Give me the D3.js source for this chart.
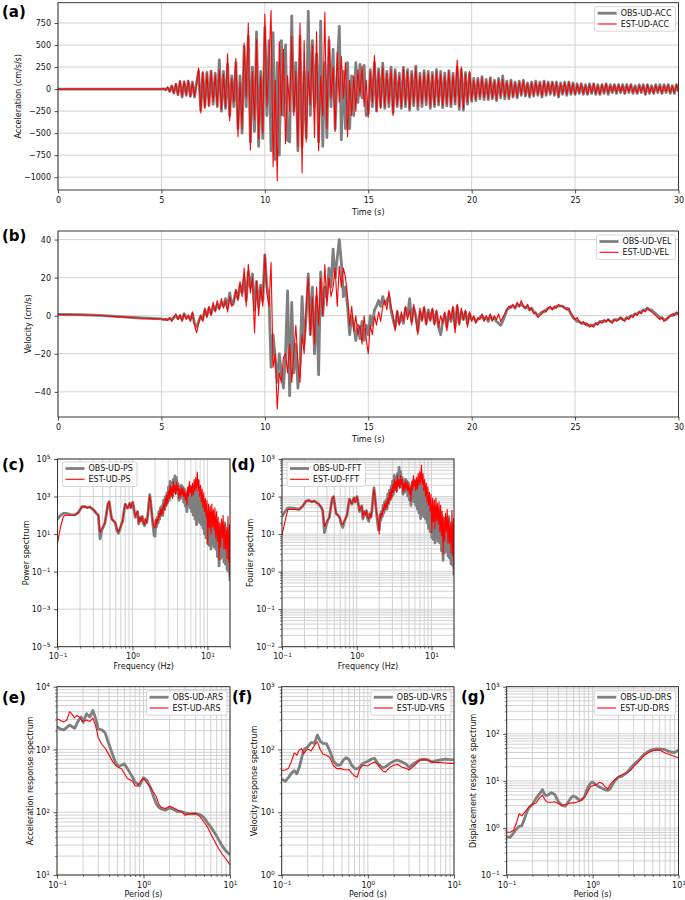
<!DOCTYPE html>
<html><head><meta charset="utf-8">
<script src="https://cdn.jsdelivr.net/npm/d3@7"></script>
<style>
body{margin:0;background:#fff;}
svg{display:block;font-family:"DejaVu Sans",sans-serif;}
</style></head><body>
<svg id="fig" width="685" height="900"></svg>
<script>
// ---------------- DATA ----------------
// time series: pre-event samples, then samples every timeStep seconds from eventStart to 30 s
const timeStep = 0.1;
const eventStart = 5.0;
const preTime = [0, 1, 2, 3, 4];
const accPreObs = [0, 0, 0, 0, 0];
const accPreEst = [0, 0, 0, 0, 0];
const velPreObs = [0.7, 0.6, 0.2, -0.5, -1.2];
const velPreEst = [0.6, 0.5, 0.1, -0.6, -1.3];

const accObs = [
0,3,-8,15,-25,35,-45,55,-65,80,
-90,80,-70,90,-80,80,-90,70,200,-240,
180,-200,190,-180,200,-170,180,-200,330,-250,
200,-220,280,-300,150,-200,300,-450,150,-500,
480,-200,600,-600,250,-480,650,-650,200,-560,
700,-300,550,-700,640,-800,300,-750,550,-300,
500,-580,-600,830,-250,300,-700,600,-650,200,
-550,880,-300,550,-200,400,-600,770,-650,300,
-550,550,-200,450,-450,200,710,-575,200,-450,
300,-450,150,-300,300,-150,280,-100,270,-300,
-280,220,-200,300,-250,230,-200,295,-220,200,
-200,250,-270,220,-200,180,-220,250,-200,220,
-240,200,-190,260,-230,180,-200,210,-180,200,
-220,190,-200,220,-180,200,-210,180,-190,210,
-200,180,-170,250,-230,220,-240,190,-170,180,
-140,120,-130,120,-110,140,-120,110,-120,130,
-110,100,-130,120,-100,150,-110,90,-110,100,
-90,80,-100,90,-70,100,-80,70,-90,80,
-80,90,-70,80,-90,90,-70,80,-60,80,
-70,80,-90,70,-60,80,-70,80,-60,70,
-60,60,-50,60,-60,50,-60,60,-50,60,
-60,50,-60,50,-50,60,-60,50,-40,50,
-50,50,-40,50,-50,50,-40,50,-50,40,
-50,50,-40,50,-60,50,-50,40,-50,50,
-40,50,-50,50,-40,50,-50,40,-50,50,
-30];
const accEst = [
0,5,-10,20,-30,40,-50,60,-70,100,
-80,90,-60,100,-90,70,-80,60,240,-270,
200,-220,180,-200,210,-150,160,-190,220,-230,
170,-200,400,-360,120,-150,350,-540,80,-450,
520,-100,750,-690,200,-350,560,-570,150,-500,
850,-200,300,890,-880,100,-1040,540,-300,450,
-620,150,-250,600,-300,200,-650,750,-950,550,
-600,200,-180,500,-550,650,-700,150,-300,870,
-450,600,-100,250,-480,420,-150,370,-100,300,
-540,100,-300,150,-250,220,-80,260,-200,100,
-320,200,-150,380,-250,200,-220,250,-200,180,
-160,220,-300,200,-180,150,-200,230,-170,200,
-220,180,-160,240,-200,150,-170,190,-150,180,
-200,160,-180,200,-150,170,-190,150,-170,200,
-180,160,-150,330,-200,250,-220,170,-150,200,
-130,100,-120,110,-90,130,-100,90,-110,120,
-100,90,-120,100,-80,110,-90,80,-100,90,
-80,70,-90,80,-60,90,-70,60,-80,70,
-70,80,-60,70,-80,90,-60,70,-50,80,
-60,70,-80,60,-50,70,-60,80,-50,60,
-60,50,-40,60,-50,40,-60,50,-40,60,
-50,40,-60,50,-40,60,-50,40,-30,50,
-40,50,-30,40,-50,40,-30,50,-40,30,
-50,40,-30,40,-60,50,-40,30,-50,40,
-30,40,-50,40,-30,50,-40,30,-40,50,
-20];

const velObs = [
-1.7,-2,-2,-2,-1.5,-2,-1,0,-1.5,0,
-2,1,-1,0,-2,1,-4,-6,-3,0,
-2,3,0,4,1,5,3,6,4,7,
5,9,4,12,6,8,13,9,16,12,
20,8,23,15,22,3,18,5,16,8,
32,15,10,-27,-10,-22,-35,-20,-30,-38,
-20,13,-42,7,-30,-15,-38,-25,10,-15,
0,22,-10,15,-20,10,-31,23,0,15,
10,25,15,35,20,30,40,28,10,15,
5,-10,0,-5,-13,-5,-12,-3,-13,-5,
-10,0,-5,3,5,8,5,10,6,8,
10,3,-2,-6,2,-4,0,-4,4,0,
9,-3,4,0,-8,2,-2,4,-4,3,
-2,3,-4,2,-6,-10,-3,1,-6,2,
-3,4,-6,5,-4,2,-2,2,-4,1,
-2,-1,-3,-2,-1,0,-2,-1,-3,0,
-2,-1,-3,-4,-5,-3,0,3,4,5,
5,4,6,5,6,5,4,5,3,4,
2,1,0,1,2,2,3,4,4,4,
4,5,5,5,5,4,4,3,1,-1,
-2,-3,-3,-4,-4,-4,-5,-5,-5,-5,
-4,-4,-3,-3,-3,-3,-2,-3,-3,-2,
-2,-2,-1,-2,-2,-1,-1,0,0,1,
1,2,2,3,3,4,3,3,2,1,
0,-1,-1,-2,-2,-1,0,0,1,1,
1];
const velEst = [
-1.7,-2,-1.5,-2.5,-1,-3,-0.5,1,-2,0.5,
-3,1,-2,0,-3,2,-5,-9,-4,0,
-3,4,-1,5,0,7,2,8,3,9,
4,8,2,10,5,6,14,8,18,10,
25,5,27,12,20,-9,18,0,15,5,
32,12,5,28,-27,-20,-49,-30,-35,-22,
-20,-30,-15,-35,-20,-5,-25,-35,-10,-20,
5,20,-10,10,-15,15,-5,20,0,27,
5,20,10,15,25,5,26,15,25,20,
10,-5,5,-8,0,-10,-5,-15,0,-12,
-20,-5,-10,0,-5,2,-3,5,8,3,
13,5,0,-8,3,-5,2,-3,5,-2,
3,-5,6,-2,-10,4,-3,5,-5,2,
-3,4,-5,3,-6,0,-4,2,-8,3,
-2,5,-9,6,-5,4,-2,3,-6,2,
-3,0,-4,-1,-2,1,-3,0,-2,1,
-3,0,-2,1,-3,-1,1,3,5,4,
6,4,7,5,8,5,4,6,3,4,
1,2,-1,0,1,3,2,4,5,3,
5,4,6,5,5,4,3,4,1,0,
-2,-1,-3,-4,-3,-5,-4,-6,-5,-6,
-4,-5,-3,-4,-2,-3,-2,-3,-4,-2,
-3,-2,-1,-2,-3,-1,-2,0,-1,1,
0,2,1,3,2,4,3,2,1,0,
-1,-2,-1,-3,-2,-1,0,1,0,2,
1];

// spectra (Hz)
const specFreq = [
0.1,0.11,0.12,0.13,0.15,0.17,0.19,0.21,0.23,0.25,
0.27,0.29,0.31,0.33,0.35,0.37,0.39,0.41,0.43,0.45,
0.47,0.49,0.51,0.53,0.56,0.59,0.62,0.65,0.68,0.71,
0.74,0.77,0.8,0.83,0.86,0.89,0.92,0.95,0.98,1.01,
1.05,1.09,1.13,1.17,1.21,1.25,1.3,1.35,1.4,1.45,
1.5,1.55,1.6,1.65,1.7,1.75,1.8,1.85,1.9,1.95,
2.0,2.05,2.1,2.15,2.2,2.25,2.3,2.36,2.42,2.48,
2.54,2.6,2.67,2.74,2.81,2.88,2.95,3.02,3.1,3.18,
3.26,3.34,3.42,3.5,3.59,3.68,3.77,3.86,3.96,4.06,
4.16,4.26,4.37,4.48,4.59,4.7,4.82,4.94,5.06,5.19,
5.32,5.45,5.59,5.73,5.87,6.02,6.17,6.32,6.48,6.64,
6.81,6.98,7.15,7.33,7.51,7.7,7.89,8.09,8.29,8.5,
8.71,8.93,9.15,9.38,9.61,9.85,10.1,10.35,10.6,10.9,
11.15,11.45,11.7,12.0,12.3,12.6,12.95,13.25,13.6,13.9,
14.3,14.6,15.0,15.4,15.8,16.2,16.6,17.0,17.4,17.9,
18.3,18.8,19.2,19.7,20.0];
const psObs = [
63,100,126,126,110,105,141,282,295,251,
282,224,178,126,100,5.6,16,25,40,126,
398,537,158,63,50,40,16,11,18,32,
50,158,398,282,240,316,437,251,355,501,
200,79,126,158,35,79,50,87,35,28,
63,40,100,398,1250,501,158,50,20,8,
7.9,50,25,79,40,158,63,251,100,316,
100,631,200,1000,316,1580,501,3160,631,6310,
1260,5010,1000,7940,2000,12600,1580,10000,1580,5010,
631,3160,794,3980,1000,3160,501,2510,316,1260,
158,2000,398,3160,251,2000,158,3160,100,2510,
63,3980,32,2000,50,1260,40,794,32,501,
20,316,10,200,6.3,158,3.2,100,2.5,126,
1.6,79,3.2,63,2,79,1.6,40,0.63,32,
0.2,20,0.5,32,0.63,25,0.32,40,0.25,20,
0.13,7.9,0.1,3.2,0.032];
const psEst = [
3.3,25,89,100,100,100,141,282,295,251,
282,224,178,126,112,12.6,20,28,40,126,
398,537,158,63,50,40,20,13,20,32,
50,158,398,282,240,316,437,251,355,501,
200,87,126,158,40,79,50,87,40,32,
63,40,100,398,1100,501,158,63,32,22,
22,63,32,63,50,126,79,200,100,251,
126,398,200,794,316,1260,398,2000,794,3980,
1000,3160,794,6310,1580,3980,1260,6310,2000,3980,
794,2510,1000,3160,1260,2820,1000,2000,631,1580,
355,3160,1000,6310,1580,3980,1000,5010,1260,7940,
2000,10000,2510,20000,2000,7940,1000,3980,501,2510,
251,1580,158,794,79,631,2.8,398,22,316,
10,398,25,200,16,251,6.3,158,4,79,
0.4,40,2,63,6.3,100,1.6,32,1.6,16,
0.5,87,0.32,32,0.063];
const fftObs = [
30,40,50,50,48,46,56,76,79,72,
76,69,63,54,42,11,17,23,28,52,
89,100,56,35,32,28,18,15,21,26,
32,56,85,71,63,79,93,71,79,100,
63,40,50,56,25,40,32,42,25,22,
35,28,45,89,170,100,56,32,20,13,
13,32,23,41,29,58,36,72,46,81,
46,115,65,145,81,182,102,257,115,363,
162,324,145,407,204,600,182,457,182,324,
115,257,129,288,145,257,102,229,81,162,
58,204,91,257,72,204,58,257,46,229,
36,288,26,204,32,162,29,129,26,102,
20,81,14,65,11.5,58,8.1,46,7.2,51,
5.8,41,8.1,36,6.5,41,5.8,29,3.6,26,
2.0,20,3.2,26,3.6,23,2.6,29,2.3,20,
1.6,13,1.45,8.1,0.8];
const fftEst = [
9.5,22,45,46,45,44,56,76,79,72,
76,69,63,54,45,16,20,24,28,52,
89,100,56,35,32,28,20,18,22,26,
32,56,85,71,63,79,93,71,79,100,
63,42,50,56,28,40,32,42,28,25,
35,28,45,89,158,100,56,35,25,20,
10,36,26,36,32,51,41,65,46,72,
51,91,65,129,81,162,91,204,129,288,
145,257,129,363,182,288,162,363,204,288,
129,229,145,257,162,245,145,204,115,182,
74,257,145,363,182,288,145,324,162,407,
204,457,229,690,204,407,145,288,102,229,
72,182,58,129,41,115,11,91,21,81,
14,91,23,65,18,72,11.5,58,9.1,41,
2.9,29,6.5,36,11.5,46,5.8,26,5.8,18,
3.2,43,2.6,26,1.15];

// response spectra (period, s)
const periods = [
0.1,0.11,0.12,0.13,0.14,0.15,0.16,0.17,0.18,0.19,
0.2,0.22,0.24,0.26,0.28,0.3,0.33,0.36,0.4,0.44,
0.48,0.52,0.56,0.6,0.65,0.7,0.75,0.8,0.85,0.9,
0.95,1.0,1.1,1.2,1.3,1.4,1.5,1.6,1.8,2.0,
2.2,2.5,2.8,3.0,3.5,4.0,4.5,5.0,5.5,6.0,
7.0,8.0,9.0,10.0];
const arsObs = [
2310,2100,2050,2250,2450,2300,2170,2600,3000,3300,
2700,3700,3300,4200,3100,2100,2050,1850,1200,820,
600,540,560,590,500,420,360,300,285,265,
310,355,320,250,180,138,120,113,108,117,
112,102,102,98,94,95,92,82,68,58,
42,30,24,21];
const arsEst = [
3100,2900,2750,2950,4000,3600,3200,3500,3300,3000,
2800,2950,2800,3150,2350,1550,1200,1050,820,640,
550,515,490,415,345,330,310,265,260,295,
325,345,290,250,210,180,135,120,115,125,
118,108,100,90,95,96,85,70,58,45,
30,22,18,14.5];
const vrsObs = [
34,31,36,42,46,41,52,72,98,105,
110,130,125,170,135,125,124,97,65,56,
57,68,74,70,56,50,49,52,58,61,
63,65,70,72,60,55,51,53,60,65,
68,63,58,52,61,68,70,68,63,65,
68,70,69,68];
const vrsEst = [
46,47,50,65,88,81,98,103,85,95,
102,95,117,132,100,85,81,75,55,49,
50,48,47,48,42,38,36,48,54,56,
55,55,60,63,58,50,45,44,52,56,
58,52,50,47,56,68,69,68,64,62,
62,61,60,60];
const drsObs = [
0.64,0.64,0.78,0.95,1.08,1.12,1.5,2.1,2.6,2.9,
3.2,4.3,5.2,6.5,4.9,4.9,5.6,5.2,3.6,3.0,
2.9,3.5,4.4,4.8,4.4,3.9,4.0,4.5,6.2,7.8,
9.0,9.4,8.2,7.4,6.9,6.5,6.3,6.8,9.8,12,
12.6,15,19,22,28.5,37,43,46,47.5,48,
46,41,40,45];
const drsEst = [
0.81,0.81,0.88,1.3,2.0,1.8,2.1,2.4,2.75,3.0,
3.2,3.4,4.3,5.0,3.9,3.5,3.5,3.6,3.3,3.0,
3.1,3.25,3.4,3.4,3.5,3.7,4.0,4.5,5.2,6.5,
7.6,7.9,8.2,9.3,8.8,7.5,6.8,8.3,10.5,12.3,
13.5,14.8,17,20,26.5,35,40,43.5,45,45,
39,36,33,31];

// tick values
const timeTicks = [0, 5, 10, 15, 20, 25, 30];
const accTicks = [-1000, -750, -500, -250, 0, 250, 500, 750];
const velTicks = [-40, -20, 0, 20, 40];
const freqTicks = [0.1, 1, 10];
const periodTicks = [0.1, 1, 10];
const psTicks = [1e-5, 1e-3, 1e-1, 1e1, 1e3, 1e5];
const fftTicks = [1e-2, 1e-1, 1, 1e1, 1e2, 1e3];
const arsTicks = [1e1, 1e2, 1e3, 1e4];
const vrsTicks = [1, 1e1, 1e2, 1e3];
const drsTicks = [1e-1, 1, 1e1, 1e2, 1e3];

// sanity
function chk(name, a, b){ if (a.length !== b.length) throw new Error(name + " length " + a.length + " vs " + b.length); }
chk("accObs/accEst", accObs, accEst); chk("velObs", velObs, accObs); chk("velEst", velEst, accObs);
chk("psObs", psObs, specFreq); chk("psEst", psEst, specFreq); chk("fftObs", fftObs, specFreq); chk("fftEst", fftEst, specFreq);
[arsObs, arsEst, vrsObs, vrsEst, drsObs, drsEst].forEach((a,i)=>chk("rs"+i, a, periods));

// ---------------- DRAWING ----------------
const svg = d3.select("#fig");
const GRID = "#cdcdcd";
const OBS_COLOR = "#7f7f7f", EST_COLOR = "#ff0000";
const FS = 8;

function timeSeries(pre, preVals, main){
  const pts = pre.map((t,i)=>({x:t, y:preVals[i]}));
  main.forEach((v,i)=>pts.push({x: eventStart + i*timeStep, y: v}));
  return pts;
}
function pairs(xs, ys){ return xs.map((x,i)=>({x:x, y:ys[i]})); }

function minorLogTicks(domain){
  const out = [];
  const lo = Math.floor(Math.log10(domain[0])), hi = Math.ceil(Math.log10(domain[1]));
  for (let e = lo; e <= hi; e++) for (let k = 2; k <= 9; k++){
    const v = k * Math.pow(10, e);
    if (v >= domain[0]*0.9999 && v <= domain[1]*1.0001) out.push(v);
  }
  return out;
}
function allDecades(domain){
  const out = [];
  for (let e = Math.ceil(Math.log10(domain[0])-1e-9); e <= Math.floor(Math.log10(domain[1])+1e-9); e++) out.push(Math.pow(10,e));
  return out;
}
function supText(sel){
  sel.each(function(d){
    const t = d3.select(this);
    const e = Math.round(Math.log10(d));
    t.text(null);
    t.append("tspan").text("10");
    t.append("tspan").attr("dy", "-0.45em").attr("font-size", 5.8).text(e < 0 ? "\u2212" + (-e) : String(e));
  });
}

function drawPanel(p){
  const g = svg.append("g");
  const xs = (p.xLog ? d3.scaleLog() : d3.scaleLinear()).domain(p.xDomain).range([p.x0, p.x1]);
  const ys = (p.yLog ? d3.scaleLog() : d3.scaleLinear()).domain(p.yDomain).range([p.y1, p.y0]);
  const cid = "clip" + p.id;
  svg.append("clipPath").attr("id", cid).append("rect")
    .attr("x", p.x0).attr("y", p.y0).attr("width", p.x1 - p.x0).attr("height", p.y1 - p.y0);

  // grid
  let gx = p.xTicks.slice(), gy = p.yTicks.slice();
  if (p.xLog) gx = gx.concat(minorLogTicks(p.xDomain));
  if (p.yLog && p.yMinor) gy = allDecades(p.yDomain).concat(minorLogTicks(p.yDomain));
  const grid = g.append("g").attr("stroke", GRID).attr("stroke-width", 0.9);
  grid.selectAll(".gx").data(gx).join("line")
    .attr("x1", d=>xs(d)).attr("x2", d=>xs(d)).attr("y1", p.y0).attr("y2", p.y1);
  grid.selectAll(".gy").data(gy).join("line")
    .attr("y1", d=>ys(d)).attr("y2", d=>ys(d)).attr("x1", p.x0).attr("x2", p.x1);

  // lines
  const line = d3.line().x(d=>xs(d.x)).y(d=>ys(d.y));
  const lg = g.append("g").attr("clip-path", `url(#${cid})`);
  lg.append("path").datum(p.obs).attr("d", line).attr("fill", "none")
    .attr("stroke", OBS_COLOR).attr("stroke-width", 2.8).attr("stroke-linejoin", "round");
  lg.append("path").datum(p.est).attr("d", line).attr("fill", "none")
    .attr("stroke", EST_COLOR).attr("stroke-width", 1.1).attr("stroke-linejoin", "round");

  // frame
  g.append("rect").attr("x", p.x0).attr("y", p.y0).attr("width", p.x1 - p.x0).attr("height", p.y1 - p.y0)
    .attr("fill", "none").attr("stroke", "#222").attr("stroke-width", 0.9);

  // axes
  const xAxis = d3.axisBottom(xs).tickValues(p.xTicks).tickSize(3.5).tickPadding(3.5)
    .tickFormat(d => p.xLog ? "" : d3.format("d")(d));
  const ax = g.append("g").attr("transform", `translate(0,${p.y1})`).call(xAxis);
  const yAxis = d3.axisLeft(ys).tickValues(p.yTicks).tickSize(3.5).tickPadding(3.5)
    .tickFormat(d => p.yLog ? "" : d3.format("d")(d));
  const ay = g.append("g").attr("transform", `translate(${p.x0},0)`).call(yAxis);
  [ax, ay].forEach(a => {
    a.select(".domain").remove();
    a.selectAll("line").attr("stroke", "#222").attr("stroke-width", 0.8);
    a.selectAll("text").attr("font-size", FS).attr("font-family", "DejaVu Sans").attr("fill", "#111");
  });
  if (p.xLog){
    ax.selectAll(".tick text").call(supText);
    const mx = d3.axisBottom(xs).tickValues(minorLogTicks(p.xDomain)).tickSize(2).tickFormat("");
    const m = g.append("g").attr("transform", `translate(0,${p.y1})`).call(mx);
    m.select(".domain").remove(); m.selectAll("line").attr("stroke", "#222").attr("stroke-width", 0.6);
  }
  if (p.yLog){
    ay.selectAll(".tick text").call(supText);
    if (p.yMinor){
      const my = d3.axisLeft(ys).tickValues(minorLogTicks(p.yDomain).concat(allDecades(p.yDomain).filter(v=>!p.yTicks.includes(v)))).tickSize(2).tickFormat("");
      const m = g.append("g").attr("transform", `translate(${p.x0},0)`).call(my);
      m.select(".domain").remove(); m.selectAll("line").attr("stroke", "#222").attr("stroke-width", 0.6);
    }
  }

  // labels
  g.append("text").attr("x", (p.x0 + p.x1)/2).attr("y", p.xLabelY).attr("text-anchor", "middle")
    .attr("font-size", FS).attr("fill", "#111").text(p.xLabel);
  g.append("text").attr("transform", `translate(${p.yLabelX},${(p.y0 + p.y1)/2}) rotate(-90)`)
    .attr("text-anchor", "middle").attr("font-size", FS).attr("fill", "#111").text(p.yLabel);
  g.append("text").attr("x", p.tagX).attr("y", p.tagY).attr("font-size", 15).attr("font-weight", "bold")
    .attr("fill", "#000").text(p.tag);

  // legend
  const leg = g.append("g");
  const box = leg.append("rect").attr("fill", "#fff").attr("fill-opacity", 0.85)
    .attr("stroke", "#cccccc").attr("stroke-width", 0.8).attr("rx", 2);
  const items = [{n: p.names[0], c: OBS_COLOR, w: 2.8}, {n: p.names[1], c: EST_COLOR, w: 1.1}];
  let maxW = 0;
  const rows = items.map((it, i) => {
    const ry = 6.5 + i * 10.8;
    const l = leg.append("line").attr("y1", ry).attr("y2", ry).attr("stroke", it.c).attr("stroke-width", it.w);
    const t = leg.append("text").attr("y", ry + 2.9).attr("font-size", FS).attr("fill", "#111").text(it.n);
    maxW = Math.max(maxW, t.node().getComputedTextLength());
    return {l, t};
  });
  const bw = 3 + 19 + 4 + maxW + 4, bh = 24.5;
  rows.forEach(r => { r.l.attr("x1", 3).attr("x2", 22); r.t.attr("x", 26); });
  box.attr("x", 0).attr("y", 0).attr("width", bw).attr("height", bh);
  const lx = p.legendLeft ? p.x0 + 5 : p.x1 - 3 - bw;
  const ly = p.legendLeft ? p.y0 + 3 : p.y0 + 4;
  leg.attr("transform", `translate(${lx},${ly})`);
}

const panels = [
  {id:"a", x0:58, x1:678.5, y0:2.7, y1:190, xDomain:[0,30], yDomain:[-1145,980],
   xTicks: timeTicks, yTicks: accTicks, xLabel:"Time (s)", xLabelY:214.5,
   yLabel:"Acceleration (cm/s/s)", yLabelX:21, tag:"(a)", tagX:2, tagY:16.5,
   obs: timeSeries(preTime, accPreObs, accObs), est: timeSeries(preTime, accPreEst, accEst),
   names:["OBS-UD-ACC","EST-UD-ACC"]},
  {id:"b", x0:58, x1:678.5, y0:231, y1:417, xDomain:[0,30], yDomain:[-53.2,44.5],
   xTicks: timeTicks, yTicks: velTicks, xLabel:"Time (s)", xLabelY:442,
   yLabel:"Velocity (cm/s)", yLabelX:31, tag:"(b)", tagX:2, tagY:241,
   obs: timeSeries(preTime, velPreObs, velObs), est: timeSeries(preTime, velPreEst, velEst),
   names:["OBS-UD-VEL","EST-UD-VEL"]},
  {id:"c", x0:57.5, x1:230, y0:459, y1:646.7, xLog:true, yLog:true, yMinor:false,
   xDomain:[0.1,20], yDomain:[1e-5,1e5], xTicks: freqTicks, yTicks: psTicks,
   xLabel:"Frequency (Hz)", xLabelY:669, yLabel:"Power spectrum", yLabelX:28.5,
   tag:"(c)", tagX:2, tagY:469.5, legendLeft:true,
   obs: pairs(specFreq, psObs), est: pairs(specFreq, psEst), names:["OBS-UD-PS","EST-UD-PS"]},
  {id:"d", x0:282, x1:454, y0:459, y1:646.7, xLog:true, yLog:true, yMinor:true,
   xDomain:[0.1,20], yDomain:[1e-2,1e3], xTicks: freqTicks, yTicks: fftTicks,
   xLabel:"Frequency (Hz)", xLabelY:669, yLabel:"Fourier spectrum", yLabelX:252.5,
   tag:"(d)", tagX:231, tagY:469.5, legendLeft:true,
   obs: pairs(specFreq, fftObs), est: pairs(specFreq, fftEst), names:["OBS-UD-FFT","EST-UD-FFT"]},
  {id:"e", x0:57, x1:230, y0:686.7, y1:875, xLog:true, yLog:true, yMinor:true,
   xDomain:[0.1,10], yDomain:[1e1,1e4], xTicks: periodTicks, yTicks: arsTicks,
   xLabel:"Period (s)", xLabelY:897, yLabel:"Acceleration response spectrum", yLabelX:32.5,
   tag:"(e)", tagX:2, tagY:703,
   obs: pairs(periods, arsObs), est: pairs(periods, arsEst), names:["OBS-UD-ARS","EST-UD-ARS"]},
  {id:"f", x0:281.7, x1:454, y0:686.7, y1:875, xLog:true, yLog:true, yMinor:true,
   xDomain:[0.1,10], yDomain:[1,1e3], xTicks: periodTicks, yTicks: vrsTicks,
   xLabel:"Period (s)", xLabelY:897, yLabel:"Velocity response spectrum", yLabelX:256.5,
   tag:"(f)", tagX:232, tagY:702,
   obs: pairs(periods, vrsObs), est: pairs(periods, vrsEst), names:["OBS-UD-VRS","EST-UD-VRS"]},
  {id:"g", x0:506.7, x1:678.5, y0:686.7, y1:875, xLog:true, yLog:true, yMinor:true,
   xDomain:[0.1,10], yDomain:[1e-1,1e3], xTicks: periodTicks, yTicks: drsTicks,
   xLabel:"Period (s)", xLabelY:897, yLabel:"Displacement response spectrum", yLabelX:475.8,
   tag:"(g)", tagX:461, tagY:702,
   obs: pairs(periods, drsObs), est: pairs(periods, drsEst), names:["OBS-UD-DRS","EST-UD-DRS"]}
];
panels.forEach(drawPanel);
</script>
</body></html>
